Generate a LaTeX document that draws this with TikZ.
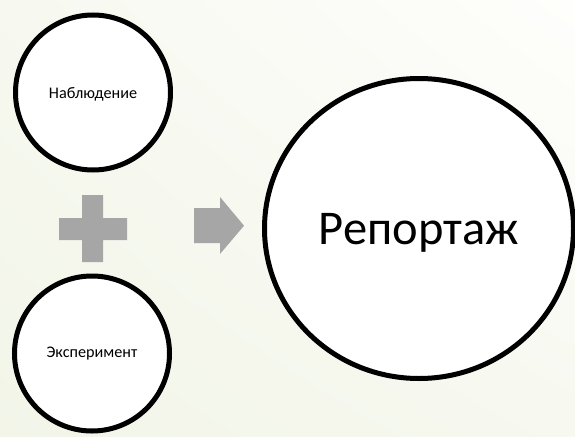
\documentclass[tikz,border=0pt]{standalone}
\usepackage{fontspec}
\setmainfont{Carlito}
\usetikzlibrary{shapes.geometric,shadings}
\definecolor{bgA}{RGB}{242,245,232}
\definecolor{bgB}{RGB}{254,254,252}
\definecolor{symgray}{RGB}{166,166,166}
\tikzset{
  ring/.style={circle, draw=black, fill=white, line width=5pt, inner sep=0pt, minimum size=155pt, font=\fontsize{16.2}{18}\selectfont},
  bigring/.style={ellipse, draw=black, fill=white, line width=5pt, inner sep=0pt, minimum width=309pt, minimum height=300pt, text depth=0pt, font=\fontsize{48.5}{54}\selectfont},
  sym/.style={fill=symgray, draw=none}
}
\begin{document}
\begin{tikzpicture}[x=1pt,y=-1pt]
\useasboundingbox (0,0) rectangle (575,436);
\shade[lower left=bgA, upper right=bgB, lower right=bgA!60!bgB, upper left=bgA!60!bgB] (0,436) rectangle (575,0);
\clip (0,0) rectangle (575,436);
\node[ring, text depth=0pt] (obs) at (93,92.5) {Наблюдение};
\node[ring] (exp) at (92,353.5) {Эксперимент};
\node[bigring] (rep) at (419,228.5) {Репортаж};
% plus sign
\fill[sym] (82,195) -- (103,195) -- (103,218) -- (127,218) -- (127,240) -- (103,240) -- (103,262) -- (82,262) -- (82,240) -- (59,240) -- (59,218) -- (82,218) -- cycle;
% arrow
\fill[sym] (194,208) -- (220,208) -- (220,197) -- (244,225.7) -- (220,254) -- (220,243) -- (194,243) -- cycle;
\end{tikzpicture}
\end{document}
